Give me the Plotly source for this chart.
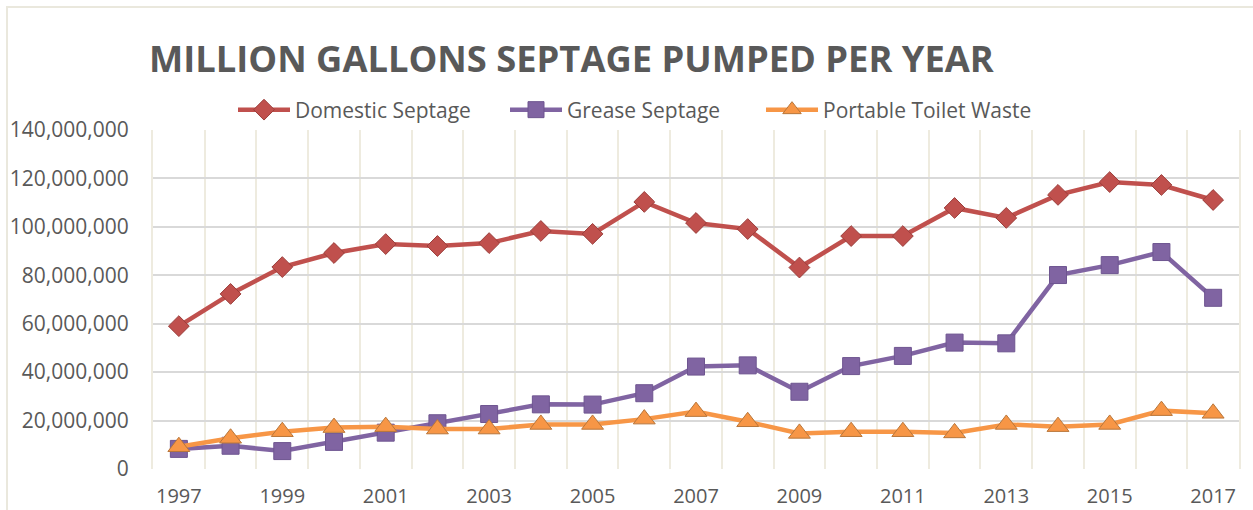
import plotly.graph_objects as go

years = list(range(1997, 2018))
tick_years = [1997, 1999, 2001, 2003, 2005, 2007, 2009, 2011, 2013, 2015, 2017]
y_ticks = [0, 20_000_000, 40_000_000, 60_000_000, 80_000_000, 100_000_000, 120_000_000, 140_000_000]

domestic = [59.0e6, 72.3e6, 83.4e6, 89.2e6, 92.9e6, 92.1e6, 93.3e6, 98.3e6, 97.1e6, 110.3e6, 101.6e6,
            99.1e6, 83.2e6, 96.2e6, 96.2e6, 107.8e6, 103.7e6, 113.2e6, 118.5e6, 117.3e6, 111.1e6]
grease = [8.3e6, 9.6e6, 7.4e6, 11.2e6, 15.0e6, 18.9e6, 22.7e6, 26.7e6, 26.6e6, 31.3e6, 42.3e6,
          42.8e6, 31.9e6, 42.5e6, 46.7e6, 52.2e6, 51.9e6, 80.1e6, 84.2e6, 89.6e6, 70.7e6]
portable = [9.2e6, 12.7e6, 15.4e6, 17.1e6, 17.5e6, 16.5e6, 16.5e6, 18.4e6, 18.4e6, 20.6e6, 23.7e6,
            19.5e6, 14.7e6, 15.4e6, 15.4e6, 14.9e6, 18.4e6, 17.5e6, 18.4e6, 24.1e6, 23.0e6]

names = ["Domestic Septage", "Grease Septage", "Portable Toilet Waste"]
series = [domestic, grease, portable]
colors = ["#C0504D", "#8064A2", "#F79646"]
outline = ["#9B3E3B", "#6E5590", "#B8763A"]
symbols = ["diamond", "square", "triangle-up"]
sizes = [16, 17, 19]
legends = ["legend", "legend2", "legend3"]

FONT = "Open Sans"
TXT = "#595959"

W, H = 1253, 510
L, R, T, B = 153, 14, 130, 41

fig = go.Figure()
for name, vals, c, oc, sym, sz, lg in zip(names, series, colors, outline, symbols, sizes, legends):
    fig.add_trace(go.Scatter(
        x=years, y=vals, name=name, mode="lines+markers",
        line=dict(color=c, width=4.5),
        marker=dict(symbol=sym, size=sz, color=c, line=dict(color=oc, width=1)),
        legend=lg,
    ))

legend_x = [233, 505, 761]
common_leg = dict(orientation="h", xref="container", yref="container", yanchor="middle",
                  y=1 - 110 / H, xanchor="left", font=dict(family=FONT, size=21, color=TXT),
                  bgcolor="rgba(0,0,0,0)", itemwidth=52, borderwidth=0)

fig.update_layout(
    width=W, height=H,
    margin=dict(l=L, r=R, t=T, b=B, autoexpand=False),
    paper_bgcolor="white", plot_bgcolor="white",
    title=dict(text="<b>MILLION GALLONS SEPTAGE PUMPED PER YEAR</b>",
               font=dict(family=FONT, size=36.3, color=TXT),
               xref="container", x=149 / W, xanchor="left",
               yref="container", y=1 - 59 / H, yanchor="middle"),
    showlegend=True,
    legend=dict(x=legend_x[0] / W, **common_leg),
    legend2=dict(x=legend_x[1] / W, **common_leg),
    legend3=dict(x=legend_x[2] / W, **common_leg),
    xaxis=dict(range=[1996.5, 2017.5], tickvals=tick_years, ticktext=[str(y) for y in tick_years],
               showgrid=False, zeroline=False, showline=False, ticks="",
               tickfont=dict(family=FONT, size=20, color=TXT), ticklabelstandoff=13,
               minor=dict(tick0=1996.5, dtick=1, showgrid=True, gridcolor="#EEEBDF", gridwidth=2)),
    yaxis=dict(range=[0, 140_000_000], tickvals=y_ticks, tickformat=",d",
               showgrid=True, gridcolor="#D9D9D9", gridwidth=2,
               zeroline=False, showline=True, linecolor="#EEEBDF", linewidth=2, mirror=True,
               ticks="", tickfont=dict(family=FONT, size=21, color=TXT), ticklabelstandoff=18),
    shapes=[dict(type="rect", xref="paper", yref="paper",
                 x0=(7 - L) / (W - L - R), x1=(W + 20 - L) / (W - L - R),
                 y0=(H - B - 7) / (H - T - B), y1=-0.3,
                 line=dict(color="#EAE8DD", width=2), fillcolor="rgba(0,0,0,0)", layer="below")],
)

fig.write_html("out.html", config={"displayModeBar": False},
               post_script="document.body.style.margin='0';document.body.style.overflow='hidden';")
